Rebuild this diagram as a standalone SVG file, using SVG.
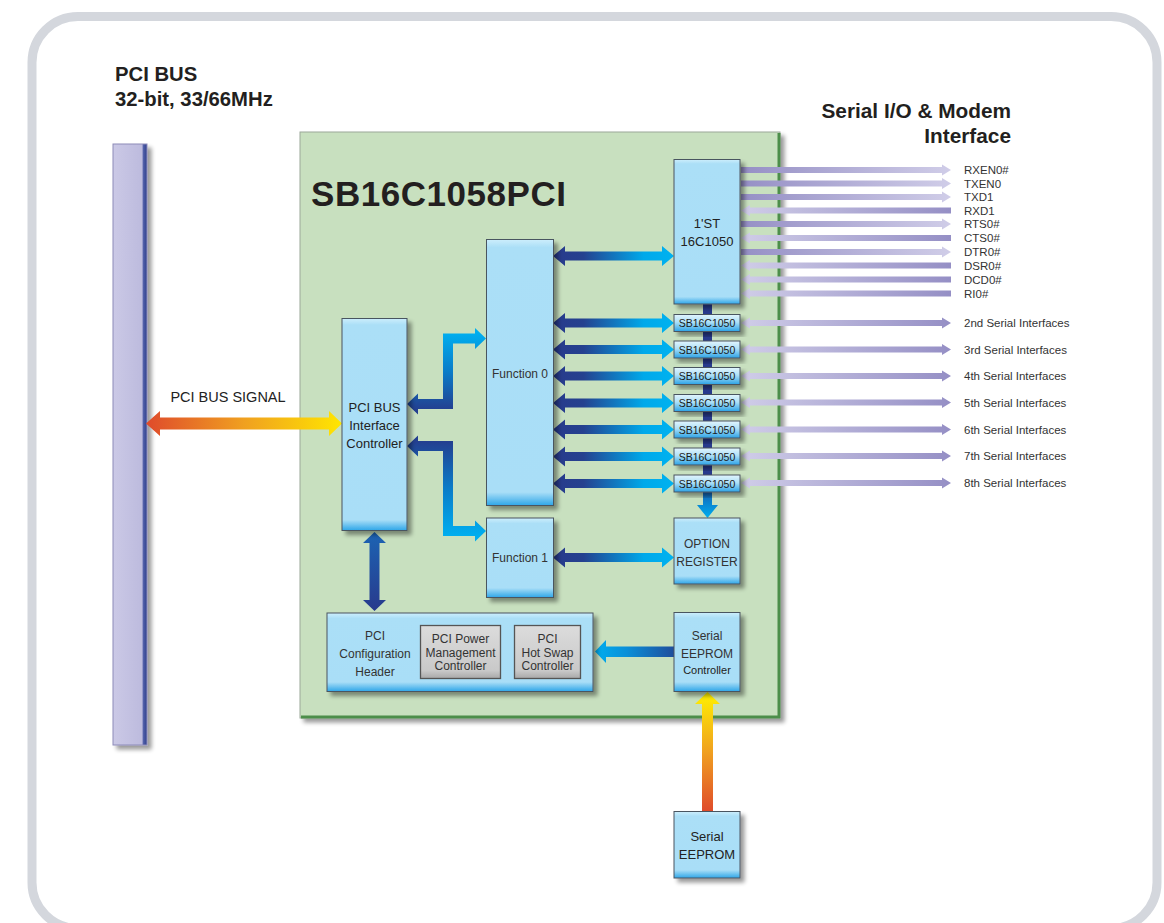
<svg xmlns="http://www.w3.org/2000/svg" width="1164" height="923" viewBox="0 0 1164 923">
<style>
text{font-family:"Liberation Sans",Arial,Helvetica,sans-serif;fill:#222}
.ttl{font-weight:bold;fill:#231f20}
.bt{font-size:13px;text-anchor:middle}
.gt{font-size:12px;text-anchor:middle;fill:#333}
.sb{font-size:10.5px;text-anchor:middle;fill:#1a1a1a}
.sig{font-size:11.5px;fill:#333}
.box{stroke:#4a5560;stroke-width:1;filter:url(#sh)}
.tall{fill:url(#gTall)}
.med{fill:url(#gMed)}
.small{fill:url(#gSmall)}
.gray{fill:url(#gGray);stroke:#555;stroke-width:1.3}
.nav{fill:url(#gNav)}
.pout{fill:url(#gPout)}
.pin{fill:url(#gPin)}
</style>
<defs>
<filter id="sh" x="-20%" y="-20%" width="150%" height="150%">
<feGaussianBlur in="SourceAlpha" stdDeviation="2"/>
<feOffset dx="4" dy="4" result="b"/>
<feComponentTransfer><feFuncA type="linear" slope="0.4"/></feComponentTransfer>
<feMerge><feMergeNode/><feMergeNode in="SourceGraphic"/></feMerge>
</filter>
<linearGradient id="gTall" x1="0" y1="0" x2="0" y2="1">
<stop offset="0" stop-color="#cdeefc"/><stop offset="0.03" stop-color="#abdff7"/><stop offset="0.95" stop-color="#a9def7"/><stop offset="1" stop-color="#2ea6e8"/>
</linearGradient>
<linearGradient id="gMed" x1="0" y1="0" x2="0" y2="1">
<stop offset="0" stop-color="#cdeefc"/><stop offset="0.07" stop-color="#abdff7"/><stop offset="0.88" stop-color="#a9def7"/><stop offset="1" stop-color="#2ea6e8"/>
</linearGradient>
<linearGradient id="gSmall" x1="0" y1="0" x2="0" y2="1">
<stop offset="0" stop-color="#e2f5fd"/><stop offset="0.45" stop-color="#aee0f7"/><stop offset="1" stop-color="#2aa2e6"/>
</linearGradient>
<linearGradient id="gGray" x1="0" y1="0" x2="0" y2="1">
<stop offset="0" stop-color="#dcdcdc"/><stop offset="0.85" stop-color="#c9c9c9"/><stop offset="1" stop-color="#a8a8a8"/>
</linearGradient>
<linearGradient id="gNav" x1="0" y1="0" x2="1" y2="0">
<stop offset="0" stop-color="#283a8c"/><stop offset="0.25" stop-color="#25418f"/><stop offset="0.75" stop-color="#00a9ea"/><stop offset="1" stop-color="#00b2f0"/>
</linearGradient>
<linearGradient id="gNavL" x1="1" y1="0" x2="0" y2="0">
<stop offset="0" stop-color="#1f4e9c"/><stop offset="0.6" stop-color="#0a8fd8"/><stop offset="1" stop-color="#00aeef"/>
</linearGradient>
<linearGradient id="gElbowUp" gradientUnits="userSpaceOnUse" x1="0" y1="410" x2="0" y2="333">
<stop offset="0" stop-color="#233f90"/><stop offset="0.5" stop-color="#0a7cc8"/><stop offset="1" stop-color="#00aeef"/>
</linearGradient>
<linearGradient id="gElbowDn" gradientUnits="userSpaceOnUse" x1="0" y1="441" x2="0" y2="536">
<stop offset="0" stop-color="#233f90"/><stop offset="0.5" stop-color="#0a7cc8"/><stop offset="1" stop-color="#00aeef"/>
</linearGradient>
<linearGradient id="gVert" x1="0" y1="0" x2="0" y2="1">
<stop offset="0" stop-color="#1c64b4"/><stop offset="1" stop-color="#283a8c"/>
</linearGradient>
<linearGradient id="gBar" gradientUnits="userSpaceOnUse" x1="0" y1="304" x2="0" y2="518">
<stop offset="0" stop-color="#283a8c"/><stop offset="0.82" stop-color="#283a8c"/><stop offset="0.93" stop-color="#0a84d0"/><stop offset="1" stop-color="#00aeef"/>
</linearGradient>
<linearGradient id="gFire" x1="0" y1="0" x2="1" y2="0">
<stop offset="0" stop-color="#df4a2b"/><stop offset="0.5" stop-color="#f0a020"/><stop offset="1" stop-color="#ffe600"/>
</linearGradient>
<linearGradient id="gFireV" x1="0" y1="1" x2="0" y2="0">
<stop offset="0" stop-color="#df4a2b"/><stop offset="0.5" stop-color="#f0a020"/><stop offset="1" stop-color="#fff200"/>
</linearGradient>
<linearGradient id="gPout" gradientUnits="userSpaceOnUse" x1="741" y1="0" x2="951" y2="0">
<stop offset="0" stop-color="#958fc5"/><stop offset="1" stop-color="#d0cde8"/>
</linearGradient>
<linearGradient id="gPin" gradientUnits="userSpaceOnUse" x1="741" y1="0" x2="951" y2="0">
<stop offset="0" stop-color="#d0cde8"/><stop offset="1" stop-color="#958fc5"/>
</linearGradient>
<linearGradient id="gLav" x1="0" y1="0" x2="1" y2="0">
<stop offset="0" stop-color="#cbc9e6"/><stop offset="0.85" stop-color="#bdbbde"/><stop offset="0.9" stop-color="#4b5aa5"/><stop offset="1" stop-color="#34448f"/>
</linearGradient>
</defs>

<rect x="32" y="16.5" width="1125" height="912" rx="46" fill="#ffffff" stroke="#d4d7dd" stroke-width="9"/>

<text class="ttl" x="115" y="81" font-size="20.3">PCI BUS</text>
<text class="ttl" x="115" y="106" font-size="20.3">32-bit, 33/66MHz</text>
<text class="ttl" x="1011" y="118" font-size="20.8" text-anchor="end">Serial I/O &amp; Modem</text>
<text class="ttl" x="1011" y="143" font-size="20.8" text-anchor="end">Interface</text>

<g id="pci-bus-bar">
<rect x="113" y="144" width="34" height="601" fill="url(#gLav)" stroke="#8d8bb8" stroke-width="1" filter="url(#sh)"/>
</g>

<g id="chip">
<rect x="300" y="132" width="480" height="586" fill="#c8e0bf" stroke="#9ba89a" stroke-width="1" filter="url(#sh)"/>
<path d="M779 133 V717 H301" fill="none" stroke="#4c8e4a" stroke-width="3"/>
<text class="ttl" x="311" y="206" font-size="35" textLength="255" lengthAdjust="spacing">SB16C1058PCI</text>
</g>

<g id="connectors">
<polygon fill="url(#gFire)" points="146,423.5 160,411 160,417.5 329,417.5 329,411 342,423.5 329,436 329,429.5 160,429.5 160,436"/>
<polygon fill="url(#gFireV)" points="707.5,692 720,704 713,704 713,812 702,812 702,704 695,704"/>
<polygon fill="url(#gBar)" points="703,304 712,304 712,505 718,505 707.5,518 697,505 703,505"/>
<polygon fill="url(#gElbowUp)" points="407,404 418,393.5 418,399 443,399 443,333.5 475,333.5 475,328 486,338.5 475,349 475,343.5 453,343.5 453,409 418,409 418,414.5"/>
<polygon fill="url(#gElbowDn)" points="407,446 418,435.5 418,441 453,441 453,526 475,526 475,520.5 486,531 475,541.5 475,536 443,536 443,451 418,451 418,456.5"/>
<polygon fill="url(#gVert)" points="374.5,532 386,543 379.5,543 379.5,600 386,600 374.5,611 363,600 369.5,600 369.5,543 363,543"/>
<polygon fill="url(#gNavL)" points="595,651.5 606,640 606,646.5 674,646.5 674,657 606,657 606,663"/>
<g class="nav">
<polygon points="553,256 565,246 565,251.5 662,251.5 662,246 674,256 662,266 662,260.5 565,260.5 565,266"/>
<polygon points="553,323 565,313 565,318.5 662,318.5 662,313 674,323 662,333 662,327.5 565,327.5 565,333"/>
<polygon points="553,349.5 565,339.5 565,345 662,345 662,339.5 674,349.5 662,359.5 662,354 565,354 565,359.5"/>
<polygon points="553,376 565,366 565,371.5 662,371.5 662,366 674,376 662,386 662,380.5 565,380.5 565,386"/>
<polygon points="553,403 565,393 565,398.5 662,398.5 662,393 674,403 662,413 662,407.5 565,407.5 565,413"/>
<polygon points="553,429.5 565,419.5 565,425 662,425 662,419.5 674,429.5 662,439.5 662,434 565,434 565,439.5"/>
<polygon points="553,456.5 565,446.5 565,452 662,452 662,446.5 674,456.5 662,466.5 662,461 565,461 565,466.5"/>
<polygon points="553,483.5 565,473.5 565,479 662,479 662,473.5 674,483.5 662,493.5 662,488 565,488 565,493.5"/>
<polygon points="553,557.5 565,547.5 565,553 662,553 662,547.5 674,557.5 662,567.5 662,562 565,562 565,567.5"/>
</g>
<polygon class="pout" points="741,167 942,167 942,164.5 951,170 942,175.5 942,173 741,173"/>
<polygon class="pout" points="741,180.5 942,180.5 942,178 951,183.5 942,189 942,186.5 741,186.5"/>
<polygon class="pout" points="741,194 942,194 942,191.5 951,197 942,202.5 942,200 741,200"/>
<polygon class="pin" points="741,210.5 750,205 750,207.5 951,207.5 951,213.5 750,213.5 750,216"/>
<polygon class="pout" points="741,221 942,221 942,218.5 951,224 942,229.5 942,227 741,227"/>
<polygon class="pin" points="741,238 750,232.5 750,235 951,235 951,241 750,241 750,243.5"/>
<polygon class="pout" points="741,249 942,249 942,246.5 951,252 942,257.5 942,255 741,255"/>
<polygon class="pin" points="741,265.5 750,260 750,262.5 951,262.5 951,268.5 750,268.5 750,271"/>
<polygon class="pin" points="741,279.5 750,274 750,276.5 951,276.5 951,282.5 750,282.5 750,285"/>
<polygon class="pin" points="741,293.5 750,288 750,290.5 951,290.5 951,296.5 750,296.5 750,299"/>
<g class="pin">
<polygon points="741,323 750,317.5 750,320 942,320 942,317.5 951,323 942,328.5 942,326 750,326 750,328.5"/>
<polygon points="741,349.5 750,344 750,346.5 942,346.5 942,344 951,349.5 942,355 942,352.5 750,352.5 750,355"/>
<polygon points="741,376 750,370.5 750,373 942,373 942,370.5 951,376 942,381.5 942,379 750,379 750,381.5"/>
<polygon points="741,402.5 750,397 750,399.5 942,399.5 942,397 951,402.5 942,408 942,405.5 750,405.5 750,408"/>
<polygon points="741,429.5 750,424 750,426.5 942,426.5 942,424 951,429.5 942,435 942,432.5 750,432.5 750,435"/>
<polygon points="741,456 750,450.5 750,453 942,453 942,450.5 951,456 942,461.5 942,459 750,459 750,461.5"/>
<polygon points="741,483 750,477.5 750,480 942,480 942,477.5 951,483 942,488.5 942,486 750,486 750,488.5"/>
</g>
</g>

<text x="228" y="402" font-size="14.5" text-anchor="middle" fill="#333">PCI BUS SIGNAL</text>

<g id="sig-labels">
<text class="sig" x="964" y="174">RXEN0#</text>
<text class="sig" x="964" y="187.5">TXEN0</text>
<text class="sig" x="964" y="201">TXD1</text>
<text class="sig" x="964" y="214.5">RXD1</text>
<text class="sig" x="964" y="228">RTS0#</text>
<text class="sig" x="964" y="242">CTS0#</text>
<text class="sig" x="964" y="256">DTR0#</text>
<text class="sig" x="964" y="269.5">DSR0#</text>
<text class="sig" x="964" y="283.5">DCD0#</text>
<text class="sig" x="964" y="297.5">RI0#</text>
<text class="sig" x="964" y="327">2nd Serial Interfaces</text>
<text class="sig" x="964" y="353.5">3rd Serial Interfaces</text>
<text class="sig" x="964" y="380">4th Serial Interfaces</text>
<text class="sig" x="964" y="406.5">5th Serial Interfaces</text>
<text class="sig" x="964" y="433.5">6th Serial Interfaces</text>
<text class="sig" x="964" y="460">7th Serial Interfaces</text>
<text class="sig" x="964" y="487">8th Serial Interfaces</text>
</g>

<g id="uart0">
<rect class="box tall" x="674" y="159.5" width="66" height="144.5"/>
<text class="bt" x="707" y="228">1'ST</text>
<text class="bt" x="707" y="246">16C1050</text>
</g>
<g id="func0">
<rect class="box tall" x="486.5" y="239.5" width="67" height="266"/>
<text class="gt" x="520" y="378">Function 0</text>
</g>
<g id="pci-ctrl">
<rect class="box tall" x="342" y="318.5" width="65" height="212"/>
<text class="bt" x="374.5" y="412">PCI BUS</text>
<text class="bt" x="374.5" y="430">Interface</text>
<text class="bt" x="374.5" y="448">Controller</text>
</g>
<g id="func1">
<rect class="box med" x="486.5" y="518" width="67" height="79.5"/>
<text class="gt" x="520" y="562">Function 1</text>
</g>
<g id="option">
<rect class="box med" x="674" y="518" width="66" height="66"/>
<text class="gt" x="707" y="548">OPTION</text>
<text class="gt" x="707" y="566">REGISTER</text>
</g>
<g id="config">
<rect class="box med" x="327" y="613" width="266" height="78.5"/>
<text class="gt" x="375" y="640">PCI</text>
<text class="gt" x="375" y="658">Configuration</text>
<text class="gt" x="375" y="676">Header</text>
<rect class="gray" x="420.5" y="625.5" width="80" height="53"/>
<text class="gt" x="460.5" y="642.5">PCI Power</text>
<text class="gt" x="460.5" y="656.5">Management</text>
<text class="gt" x="460.5" y="670">Controller</text>
<rect class="gray" x="514.5" y="625.5" width="66" height="53"/>
<text class="gt" x="547.5" y="642.5">PCI</text>
<text class="gt" x="547.5" y="656.5">Hot Swap</text>
<text class="gt" x="547.5" y="670">Controller</text>
</g>
<g id="eeprom-ctrl">
<rect class="box med" x="674" y="612.5" width="66" height="79"/>
<text class="gt" x="707" y="640">Serial</text>
<text class="gt" x="707" y="658">EEPROM</text>
<text x="707" y="673.5" font-size="11" text-anchor="middle" fill="#333">Controller</text>
</g>
<g id="eeprom">
<rect class="box med" x="674" y="811.5" width="66" height="66.5"/>
<text class="bt" x="707" y="841">Serial</text>
<text class="bt" x="707" y="859">EEPROM</text>
</g>
<g id="sb-boxes">
<rect class="box small" x="674" y="314.5" width="66" height="17"/><text class="sb" x="707" y="327">SB16C1050</text>
<rect class="box small" x="674" y="341" width="66" height="17"/><text class="sb" x="707" y="353.5">SB16C1050</text>
<rect class="box small" x="674" y="367.5" width="66" height="17"/><text class="sb" x="707" y="380">SB16C1050</text>
<rect class="box small" x="674" y="394.5" width="66" height="17"/><text class="sb" x="707" y="407">SB16C1050</text>
<rect class="box small" x="674" y="421" width="66" height="17"/><text class="sb" x="707" y="433.5">SB16C1050</text>
<rect class="box small" x="674" y="448" width="66" height="17"/><text class="sb" x="707" y="460.5">SB16C1050</text>
<rect class="box small" x="674" y="475" width="66" height="17"/><text class="sb" x="707" y="487.5">SB16C1050</text>
</g>
</svg>
